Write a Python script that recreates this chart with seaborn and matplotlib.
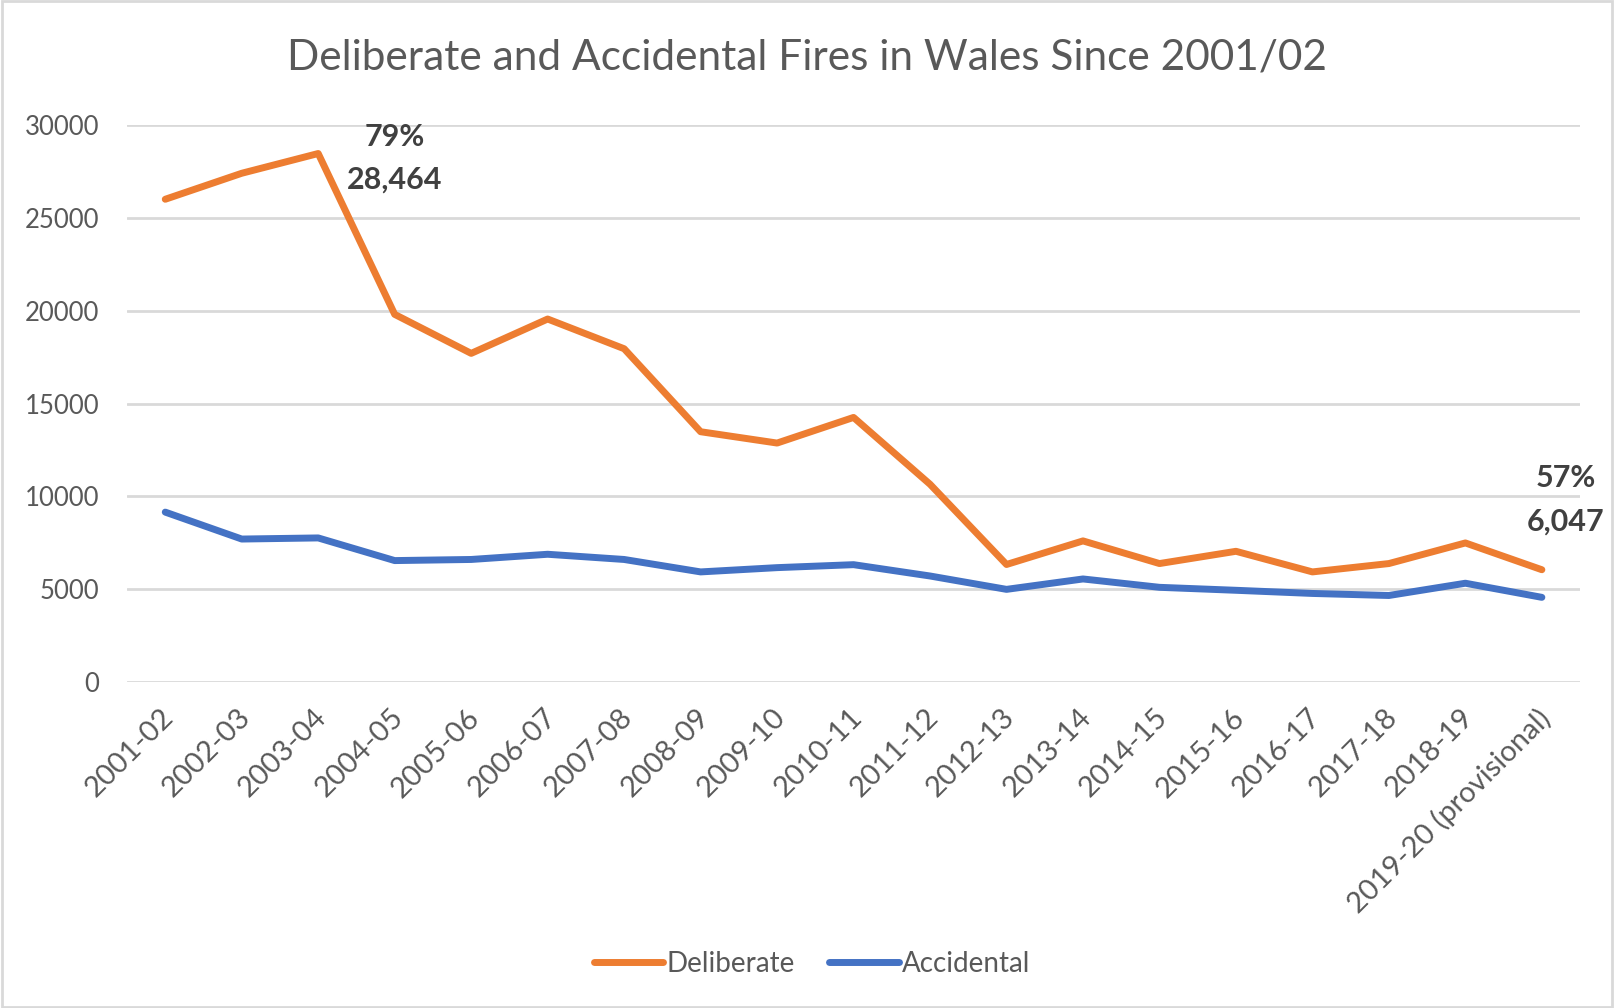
import numpy as np
import pandas as pd
import matplotlib
matplotlib.use('Agg')
import matplotlib.pyplot as plt
import matplotlib.transforms as mtransforms
import seaborn as sns

# data
years = ['2001-02', '2002-03', '2003-04', '2004-05', '2005-06', '2006-07', '2007-08',
         '2008-09', '2009-10', '2010-11', '2011-12', '2012-13', '2013-14', '2014-15',
         '2015-16', '2016-17', '2017-18', '2018-19', '2019-20 (provisional)']
deliberate = [26000, 27400, 28464, 19800, 17700, 19550, 17950, 13480, 12870, 14250,
              10650, 6330, 7600, 6380, 7040, 5930, 6380, 7490, 6047]
accidental = [9150, 7700, 7760, 6540, 6600, 6880, 6600, 5930, 6160, 6320,
              5710, 4990, 5550, 5100, 4940, 4770, 4660, 5320, 4560]

df = pd.DataFrame({'year': years * 2,
                   'fires': deliberate + accidental,
                   'type': ['Deliberate'] * len(years) + ['Accidental'] * len(years)})

sns.set_theme(style='white')
plt.rcParams['font.family'] = ['Lato', 'DejaVu Sans']
grey = '#595959'
dark = '#404040'

fig = plt.figure(figsize=(16.14, 10.08), dpi=100)
ax = fig.add_axes([0.0787, 0.3234, 0.9003, 0.5526])

sns.lineplot(data=df, x='year', y='fires', hue='type', sort=False,
             palette={'Deliberate': '#ED7D31', 'Accidental': '#4472C4'},
             linewidth=5, ax=ax)

ax.set_xlim(-0.5, len(years) - 0.5)
ax.set_ylim(0, 30000)
ax.set_yticks(range(0, 30001, 5000))
ax.yaxis.grid(True, color='#D9D9D9', linewidth=2)
ax.xaxis.grid(False)
for s in ax.spines.values():
    s.set_visible(False)
ax.set_xlabel('')
ax.set_ylabel('')
ax.tick_params(axis='y', labelsize=18.5, labelcolor=grey, pad=20, length=0)
ax.tick_params(axis='x', labelsize=21, labelcolor=grey, pad=16, length=0)
shift = mtransforms.ScaledTranslation(-5 / 100, 0, fig.dpi_scale_trans)
for lab in ax.get_xticklabels():
    lab.set_rotation(45)
    lab.set_ha('right')
    lab.set_rotation_mode('anchor')
    lab.set_transform(lab.get_transform() + shift)

fig.suptitle('Deliberate and Accidental Fires in Wales Since 2001/02',
             x=0.5, y=0.943, va='center', fontsize=30.5, color=grey)

# labels for peak and latest year
pct = [d / (d + a) for d, a in zip(deliberate, accidental)]
peak = int(np.argmax(deliberate))
last = len(years) - 1
for i, dx, dy in [(peak, 55, -19), (last, 17, 35)]:
    ax.annotate(f'{pct[i]:.0%}', (i, deliberate[i]), xytext=(dx, dy + 31),
                textcoords='offset points', ha='center', va='center',
                fontsize=22, fontweight='bold', color=dark, annotation_clip=False)
    ax.annotate(f'{deliberate[i]:,}', (i, deliberate[i]), xytext=(dx, dy),
                textcoords='offset points', ha='center', va='center',
                fontsize=22, fontweight='bold', color=dark, annotation_clip=False)

leg = ax.legend(loc='center', bbox_to_anchor=(0.503, 0.044), bbox_transform=fig.transFigure,
                ncol=2, frameon=False, fontsize=20, handlelength=2.5,
                handletextpad=0.1, columnspacing=1.25)
for t in leg.get_texts():
    t.set_color(grey)

fig.patches.append(plt.Rectangle((0.001, 0.001), 0.998, 0.998, transform=fig.transFigure,
                                 fill=False, edgecolor='#D9D9D9', linewidth=2))

fig.savefig('out.png', dpi=100)
